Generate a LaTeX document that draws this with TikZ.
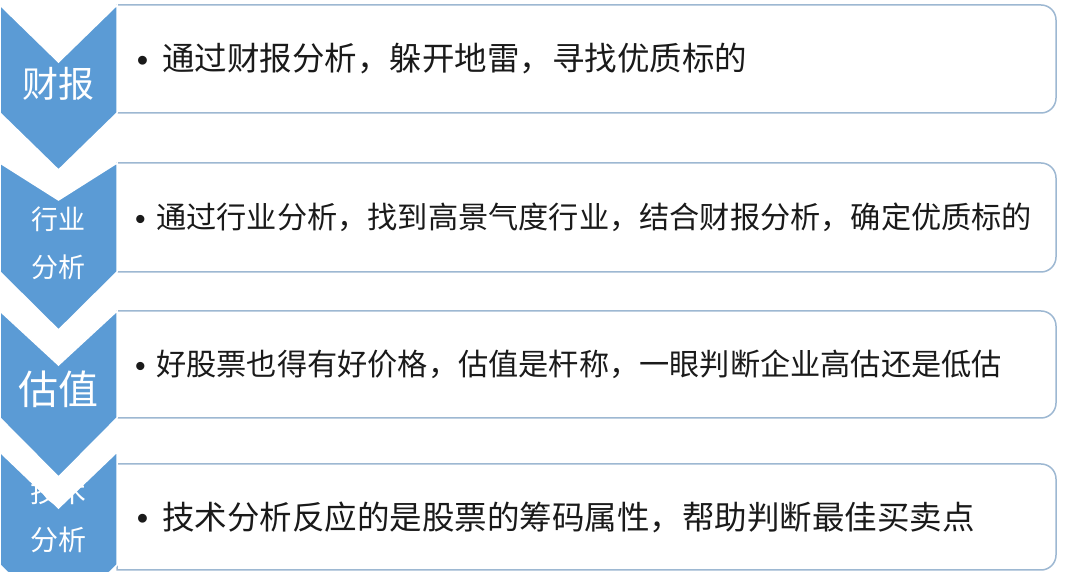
\documentclass[tikz,border=0pt]{standalone}
\usepackage{fontspec}
\setmainfont{Noto Sans CJK SC}
\newfontfamily\bulfont{Liberation Sans}
\definecolor{chev}{HTML}{5B9BD5}
\definecolor{boxline}{HTML}{9DB8D2}
\definecolor{txt}{HTML}{1A1A1A}
\begin{document}
\begin{tikzpicture}[x=1pt,y=1pt,
  chevron/.style={fill=chev, draw=white, line width=1.5pt, line join=miter},
  listbox/.style={draw=boxline, line width=1.5pt, fill=white},
  item/.style={anchor=west, text=txt, inner sep=0pt},
  bul/.style={text=txt, inner sep=0pt, anchor=base},
  clabel/.style={text=white, inner sep=0pt, align=center}]
\useasboundingbox (0,0) rectangle (1075,572);
\clip (0,0) rectangle (1075,572);
\fill[white] (0,0) rectangle (1075,572);
% boxes
\draw[listbox] (117,459) -- (117,567) -- (1041,567) arc[start angle=90,end angle=0,radius=15] -- (1056,474) arc[start angle=0,end angle=-90,radius=15] -- cycle;
\draw[listbox] (117,300) -- (117,409) -- (1041,409) arc[start angle=90,end angle=0,radius=15] -- (1056,315) arc[start angle=0,end angle=-90,radius=15] -- cycle;
\draw[listbox] (117,154) -- (117,261) -- (1041,261) arc[start angle=90,end angle=0,radius=15] -- (1056,169) arc[start angle=0,end angle=-90,radius=15] -- cycle;
\draw[listbox] (117,2) -- (117,108) -- (1041,108) arc[start angle=90,end angle=0,radius=15] -- (1056,17) arc[start angle=0,end angle=-90,radius=15] -- cycle;
% chevrons
\draw[chevron] (0,567) -- (58.5,510) -- (117,567) -- (117,459) -- (58.5,402) -- (0,459) -- cycle;
\draw[chevron] (0,409) -- (58.5,372) -- (117,409) -- (117,300) -- (58.5,242) -- (0,300) -- cycle;
\draw[chevron] (0,261) -- (58.5,207) -- (117,261) -- (117,154) -- (58.5,95) -- (0,154) -- cycle;
\draw[chevron] (0,120) -- (58.5,64) -- (117,120) -- (117,7) -- (58.5,-50) -- (0,7) -- cycle;
% chevron labels
\node[clabel, font=\fontsize{36}{40}\selectfont] (c1) at (58.5,488) {财报};
\node[clabel, font=\fontsize{27}{30}\selectfont] (c2a) at (58.5,353) {行业};
\node[clabel, font=\fontsize{27}{30}\selectfont] (c2b) at (58.5,305) {分析};
\node[clabel, font=\fontsize{40}{44}\selectfont] (c3) at (58.5,183) {估值};
\node[clabel, font=\fontsize{28}{30}\selectfont] (c4a) at (58.5,80) {技术};
\node[clabel, font=\fontsize{28}{30}\selectfont] (c4b) at (58.5,32) {分析};
% bullets
\node[bul, font=\fontsize{32.5}{36}\selectfont\bulfont] (b1) at (142.5,500.5) {•};
\node[bul, font=\fontsize{30.2}{36}\selectfont\bulfont] (b2) at (140.5,342.9) {•};
\node[bul, font=\fontsize{30.2}{36}\selectfont\bulfont] (b3) at (140.5,195.9) {•};
\node[bul, font=\fontsize{32.5}{36}\selectfont\bulfont] (b4) at (142.5,42.5) {•};
% texts
\node[item, font=\fontsize{32.5}{36}\selectfont] (t1) at (162,513) {通过财报分析，躲开地雷，寻找优质标的};
\node[item, font=\fontsize{30.2}{36}\selectfont] (t2) at (156,354.5) {通过行业分析，找到高景气度行业，结合财报分析，确定优质标的};
\node[item, font=\fontsize{30.2}{36}\selectfont] (t3) at (156,207.5) {好股票也得有好价格，估值是杆称，一眼判断企业高估还是低估};
\node[item, font=\fontsize{32.5}{36}\selectfont] (t4) at (162,55) {技术分析反应的是股票的筹码属性，帮助判断最佳买卖点};
\end{tikzpicture}
\end{document}
